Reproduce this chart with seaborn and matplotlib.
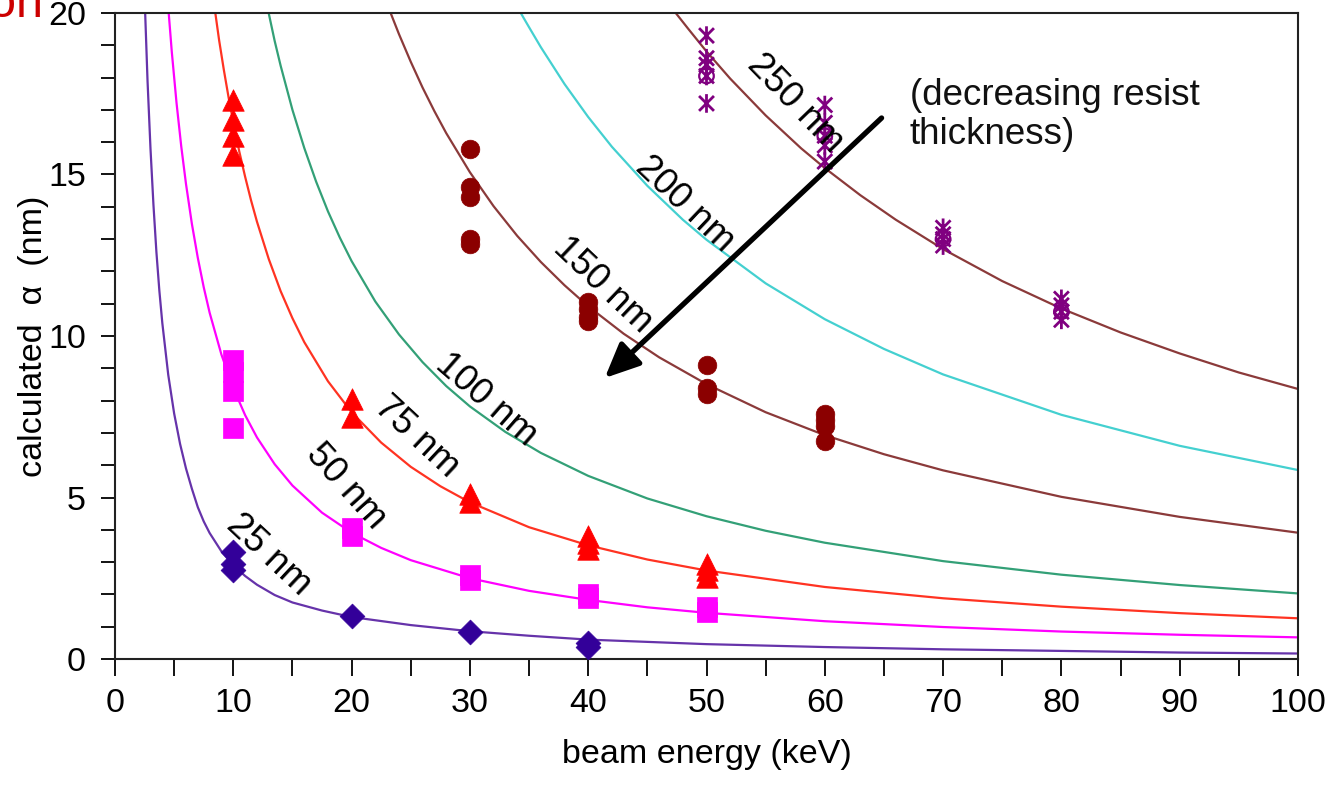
import numpy as np
import pandas as pd
import matplotlib
matplotlib.use("Agg")
import matplotlib.pyplot as plt
from matplotlib.path import Path
from matplotlib.ticker import MultipleLocator
import seaborn as sns

# ---------------- data ----------------
thickness_labels = ["25 nm", "50 nm", "75 nm", "100 nm", "150 nm", "200 nm", "250 nm"]

# fitted curves (beam energy keV, alpha nm)
curve25_E = [2.55, 2.75, 3, 3.25, 3.5, 3.75, 4, 4.5, 5, 5.5, 6, 6.5, 7, 7.5, 8, 9, 10, 11, 12,
             13.5, 15, 17.5, 20, 25, 30, 35, 40, 50, 60, 70, 80, 90, 100]
curve25_a = [20, 17.9, 15.8, 14.06, 12.6, 11.4, 10.4, 8.8, 7.6, 6.66, 5.9, 5.27, 4.7, 4.26, 3.9,
             3.33, 2.9, 2.57, 2.3, 1.98, 1.75, 1.5, 1.3, 1.05, 0.86, 0.72, 0.6, 0.46, 0.37, 0.3,
             0.25, 0.2, 0.17]
curve50_E = [4.54, 4.8, 5.2, 5.6, 6, 6.5, 7, 7.5, 8, 9, 10, 11, 12, 13.5, 15, 17.5, 20, 22.5, 25,
             30, 35, 40, 45, 50, 60, 70, 80, 90, 100]
curve50_a = [20, 18.8, 17.22, 15.87, 14.71, 13.47, 12.42, 11.51, 10.72, 9.42, 8.39, 7.55, 6.86,
             6.03, 5.37, 4.53, 3.91, 3.44, 3.06, 2.50, 2.11, 1.83, 1.60, 1.43, 1.17, 0.99, 0.85,
             0.75, 0.67]
curve75_E = [8.48, 8.8, 9.2, 9.6, 10, 10.5, 11, 11.5, 12, 13, 14, 15, 16, 18, 20, 22.5, 25, 27.5,
             30, 35, 40, 45, 50, 60, 70, 80, 90, 100]
curve75_a = [20, 19.16, 18.24, 17.39, 16.62, 15.72, 14.93, 14.20, 13.54, 12.38, 11.39, 10.55,
             9.81, 8.60, 7.64, 6.70, 5.95, 5.35, 4.85, 4.08, 3.52, 3.08, 2.74, 2.23, 1.88, 1.62,
             1.42, 1.26]
curve100_E = [12.99, 13.5, 14, 15, 16, 17, 18, 19, 20, 22, 24, 26, 28, 30, 33, 36, 40, 45, 50,
              55, 60, 70, 80, 90, 100]
curve100_a = [20, 19.13, 18.37, 17.00, 15.82, 14.78, 13.86, 13.05, 12.32, 11.07, 10.05, 9.19,
              8.45, 7.82, 7.03, 6.38, 5.67, 4.97, 4.42, 3.97, 3.60, 3.03, 2.61, 2.29, 2.03]
curve150_E = [23.3, 24, 25, 26, 27, 28, 30, 32, 34, 36, 38, 40, 43, 46, 50, 55, 60, 65, 70, 80,
              90, 100]
curve150_a = [20, 19.35, 18.49, 17.69, 16.96, 16.28, 15.07, 14.02, 13.10, 12.29, 11.57, 10.92,
              10.07, 9.34, 8.51, 7.64, 6.93, 6.34, 5.84, 5.02, 4.40, 3.91]
curve200_E = [34.3, 35, 36, 38, 40, 42, 45, 48, 50, 55, 60, 65, 70, 80, 90, 100]
curve200_a = [20, 19.56, 18.94, 17.80, 16.78, 15.86, 14.65, 13.60, 12.98, 11.63, 10.52, 9.60,
              8.81, 7.56, 6.60, 5.85]
curve250_E = [47.4, 48.5, 50, 52, 55, 58, 60, 63, 66, 70, 75, 80, 85, 90, 95, 100]
curve250_a = [20, 19.49, 18.81, 17.97, 16.83, 15.81, 15.20, 14.36, 13.60, 12.69, 11.70, 10.85,
              10.11, 9.46, 8.87, 8.36]

# measured points
pts25_E = [10, 10, 10, 20, 30, 40, 40]
pts25_a = [3.3, 2.95, 2.75, 1.33, 0.85, 0.5, 0.38]
pts50_E = [10, 10, 10, 10, 20, 20, 30, 30, 40, 40, 50, 50]
pts50_a = [9.25, 8.9, 8.3, 7.15, 4.05, 3.8, 2.6, 2.45, 2.0, 1.9, 1.6, 1.45]
pts75_E = [10, 10, 10, 10, 20, 20, 30, 30, 40, 40, 40, 50, 50, 50]
pts75_a = [17.3, 16.7, 16.2, 15.6, 8.05, 7.5, 5.1, 4.85, 3.8, 3.6, 3.4, 2.95, 2.75, 2.55]
pts100_E = [20, 20, 20, 30, 30, 30, 40, 40, 40, 40, 50, 50, 60, 60, 60]
pts100_a = [12.1, 11.8, 11.5, 7.75, 7.6, 7.4, 5.85, 5.6, 5.45, 5.3, 4.7, 4.4, 3.75, 3.5, 3.35]
pts150_E = [30, 30, 30, 30, 30, 40, 40, 40, 40, 50, 50, 50, 60, 60, 60, 60]
pts150_a = [15.8, 14.6, 14.3, 13.0, 12.85, 11.05, 10.85, 10.6, 10.45, 9.1, 8.4, 8.2, 7.6, 7.4,
            7.2, 6.75]
pts200_E = [40, 40, 40, 40, 50, 50, 50, 50, 60, 60, 60, 70, 70, 70, 70, 70]
pts200_a = [16.9, 16.4, 15.85, 15.7, 13.5, 12.8, 12.2, 11.7, 11.4, 11.2, 10.6, 10.25, 9.35, 8.9,
            8.45, 8.2]
pts250_E = [50, 50, 50, 50, 50, 60, 60, 60, 60, 60, 70, 70, 70, 70, 80, 80, 80, 80]
pts250_a = [19.3, 18.6, 18.4, 18.05, 17.2, 17.15, 16.6, 16.2, 15.9, 15.4, 13.35, 13.15, 13.0,
            12.8, 11.15, 10.95, 10.75, 10.5]
pts250_ring_E = [50, 60, 70, 80]
pts250_ring_a = [18.05, 16.2, 13.0, 10.75]

# curve label anchors (keV, nm)
label_E = [13.0, 19.5, 25.5, 31.4, 41.2, 48.2, 57.5]
label_a = [3.22, 5.33, 6.87, 8.02, 11.58, 14.09, 17.21]

x_ticks = [0, 10, 20, 30, 40, 50, 60, 70, 80, 90, 100]
y_ticks = [0, 5, 10, 15, 20]

# ---------------- style ----------------
sns.set_style("white")
plt.rcParams["font.family"] = ["Liberation Sans", "DejaVu Sans"]
plt.rcParams["text.color"] = "black"
plt.rcParams["axes.labelcolor"] = "black"

fig = plt.figure(figsize=(13.31, 7.93), dpi=100)
ax = fig.add_axes([115 / 1331, 1 - 659 / 793, (1298 - 115) / 1331, (659 - 13) / 793])

line_colors = ["#6633AA", "#FF00FF", "#FF3322", "#33A077", "#8B3A3A", "#44D0D0", "#8B3A3A"]
mark_colors = ["#330099", "#FF00FF", "#FF0000", "#33AA66", "#8B0000", "#33AAEE", "#800080"]

curves = [(curve25_E, curve25_a), (curve50_E, curve50_a), (curve75_E, curve75_a),
          (curve100_E, curve100_a), (curve150_E, curve150_a), (curve200_E, curve200_a),
          (curve250_E, curve250_a)]
for (cx, cy), col in zip(curves, line_colors):
    df = pd.DataFrame({"E": cx, "a": cy})
    sns.lineplot(data=df, x="E", y="a", ax=ax, color=col, linewidth=1.6,
                 estimator=None, sort=False, zorder=2)

asterisk = Path([(-1, -1), (1, 1), (-1, 1), (1, -1), (0, -1.25), (0, 1.25)],
                [Path.MOVETO, Path.LINETO, Path.MOVETO, Path.LINETO, Path.MOVETO, Path.LINETO])

point_sets = [
    (pts25_E, pts25_a, "D", 160, mark_colors[0], True),
    (pts50_E, pts50_a, "s", 200, mark_colors[1], True),
    (pts75_E, pts75_a, "^", 240, mark_colors[2], True),
    (pts100_E, pts100_a, "x", 190, mark_colors[3], False),
    (pts150_E, pts150_a, "o", 180, mark_colors[4], True),
    (pts200_E, pts200_a, "+", 280, mark_colors[5], False),
    (pts250_E, pts250_a, asterisk, 180, mark_colors[6], False),
]
for px, py, mk, sz, col, filled in point_sets:
    df = pd.DataFrame({"E": px, "a": py})
    if filled:
        sns.scatterplot(data=df, x="E", y="a", ax=ax, marker=mk, s=sz, color=col,
                        edgecolor=col, linewidth=0.5, zorder=3)
    else:
        sns.scatterplot(data=df, x="E", y="a", ax=ax, marker=mk, s=sz, color=col,
                        facecolor="none", edgecolor=col, linewidth=2.0, zorder=3)

sns.scatterplot(x=pts250_ring_E, y=pts250_ring_a, ax=ax, marker="o", s=110,
                facecolor="none", edgecolor=mark_colors[6], linewidth=1.6, zorder=3)

rots = [-43, -48, -43, -41, -43.5, -43.5, -46]
for lab, le, la, r in zip(thickness_labels, label_E, label_a, rots):
    ax.text(le, la, lab, rotation=r, rotation_mode="anchor", ha="center", va="center",
            fontsize=26.5, color="black", zorder=4)

ax.annotate("", xy=(41.4, 8.7), xytext=(64.8, 16.75),
            arrowprops=dict(arrowstyle="-|>,head_length=2.1,head_width=0.95",
                            color="black", lw=3.8, shrinkA=0, shrinkB=0), zorder=5)
ax.text(67.2, 18.0, "(decreasing resist\nthickness)", ha="left", va="top",
        fontsize=26.5, linespacing=1.15, color="#111111")

ax.set_xlim(0, 100)
ax.set_ylim(0, 20)
ax.set_xticks(x_ticks)
ax.set_yticks(y_ticks)
ax.xaxis.set_minor_locator(MultipleLocator(5))
ax.yaxis.set_minor_locator(MultipleLocator(1))
ax.tick_params(axis="both", which="both", direction="out", colors="black",
               labelsize=24.5, width=1.3)
ax.tick_params(axis="x", which="both", length=12, pad=9)
ax.tick_params(axis="y", which="both", length=10, pad=11)
ax.tick_params(bottom=True, left=True, top=False, right=False)
ax.tick_params(axis="both", which="minor", bottom=True, left=True)

for s in ax.spines.values():
    s.set_visible(True)
    s.set_color("#222222")
    s.set_linewidth(1.5)

ax.set_xlabel("beam energy (keV)", fontsize=24.5, labelpad=14)
ax.set_ylabel("calculated  α  (nm)", fontsize=24.5)
ax.yaxis.set_label_coords(-0.056, 0.5)

fig.text(43 / 1331, 1 - 17 / 793, "on", ha="right", va="baseline", fontsize=35,
         color="#CC0000")

fig.savefig("out.png", dpi=100)
